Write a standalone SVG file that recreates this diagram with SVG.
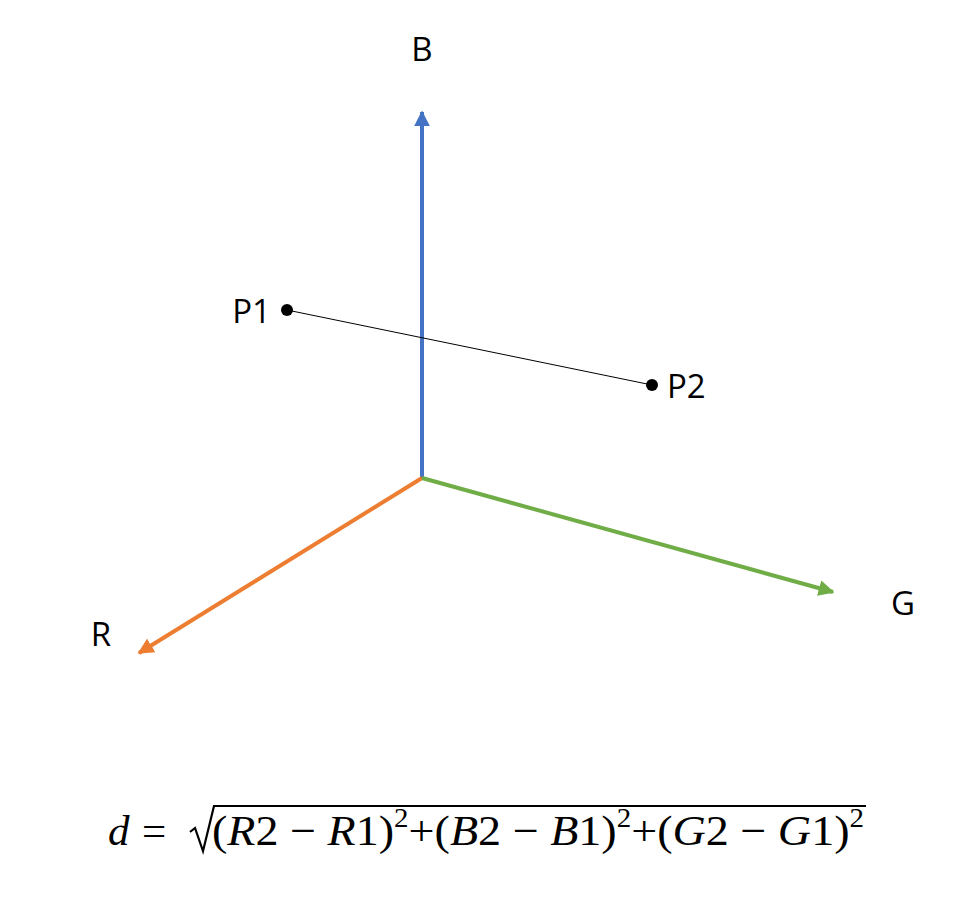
<svg xmlns="http://www.w3.org/2000/svg" width="957" height="924" viewBox="0 0 957 924">
<style>
.lbl{font-family:"Open Sans","Noto Sans","Liberation Sans",sans-serif;font-size:33px;fill:#000}
.eq{font-family:"Liberation Serif","DejaVu Serif",serif;font-size:43px;fill:#000}
.it{font-style:italic}
.ax{stroke-width:4;fill:none}
</style>
<defs>
<marker id="hb" viewBox="0 0 10 10" refX="9" refY="5" markerWidth="4" markerHeight="4" orient="auto" markerUnits="strokeWidth"><path d="M0,0 L10,5 L0,10 z" fill="#4472c4"/></marker>
<marker id="ho" viewBox="0 0 10 10" refX="9" refY="5" markerWidth="4" markerHeight="4" orient="auto" markerUnits="strokeWidth"><path d="M0,0 L10,5 L0,10 z" fill="#ed7d31"/></marker>
<marker id="hg" viewBox="0 0 10 10" refX="9" refY="5" markerWidth="4" markerHeight="4" orient="auto" markerUnits="strokeWidth"><path d="M0,0 L10,5 L0,10 z" fill="#70ad47"/></marker>
</defs>
<g id="connectors">
<line class="ax" x1="422" y1="478" x2="422" y2="112" stroke="#4472c4" marker-end="url(#hb)"/>
<line class="ax" x1="422" y1="478" x2="139" y2="653" stroke="#ed7d31" marker-end="url(#ho)"/>
<line class="ax" x1="422" y1="478" x2="833" y2="592" stroke="#70ad47" marker-end="url(#hg)"/>
<line x1="287" y1="310" x2="652" y2="385" stroke="#000" stroke-width="1"/>
</g>
<g id="axis-B"><text class="lbl" x="422" y="61" text-anchor="middle">B</text></g>
<g id="axis-R"><text class="lbl" x="101" y="646" text-anchor="middle">R</text></g>
<g id="axis-G"><text class="lbl" x="903" y="615" text-anchor="middle">G</text></g>
<g id="P1"><circle cx="287" cy="310" r="6" fill="#000"/><text class="lbl" x="271" y="323" text-anchor="end">P1</text></g>
<g id="P2"><circle cx="652" cy="385" r="6" fill="#000"/><text class="lbl" x="667" y="398">P2</text></g>
<g id="formula">
<text class="eq" y="845"><tspan class="it" x="108">d</tspan><tspan x="142">=</tspan></text>
<path d="M190,832 L195,828 L203,851 L214,806 L866,806" fill="none" stroke="#000" stroke-width="2.2"/>
<text class="eq" y="845" x="212" textLength="652" lengthAdjust="spacingAndGlyphs">(<tspan class="it">R</tspan>2  − <tspan class="it">R</tspan>1)<tspan dy="-18" font-size="27">2</tspan><tspan dy="18">+(</tspan><tspan class="it">B</tspan>2  − <tspan class="it">B</tspan>1)<tspan dy="-18" font-size="27">2</tspan><tspan dy="18">+(</tspan><tspan class="it">G</tspan>2  − <tspan class="it">G</tspan>1)<tspan dy="-18" font-size="27">2</tspan></text>
</g>
</svg>
